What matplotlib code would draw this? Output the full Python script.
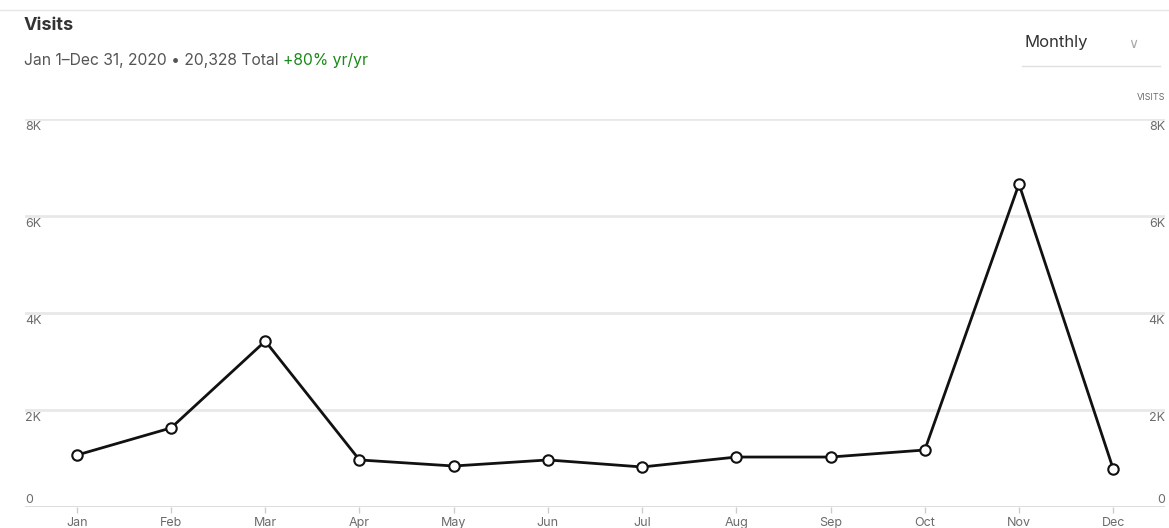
import matplotlib.pyplot as plt
from matplotlib.lines import Line2D

plt.rcParams["font.family"] = ["Inter", "DejaVu Sans"]

MESES = ["Jan", "Feb", "Mar", "Apr", "May", "Jun",
         "Jul", "Aug", "Sep", "Oct", "Nov", "Dec"]
VISITAS = [1070, 1630, 3420, 970, 845, 970, 825, 1030, 1030, 1175, 6660, 785]
Y_TICKS = [0, 2000, 4000, 6000, 8000]
Y_LABELS = ["0", "2K", "4K", "6K", "8K"]

CINZA_TEXTO = "#6b6b6b"
CINZA_GRID = "#e8e8e8"
VERDE = "#1a8917"

fig = plt.figure(figsize=(11.69, 5.28), dpi=100)
ax = fig.add_axes([0.0214, 0.0398, 0.9752, 0.7348])

x = list(range(len(MESES)))
ax.plot(x, VISITAS, color="#111111", linewidth=2, zorder=3,
        marker="o", markersize=7.5, markerfacecolor="white",
        markeredgecolor="#111111", markeredgewidth=1.5)

ax.set_xlim(-0.55, 11.55)
ax.set_ylim(0, 8000)

for v in Y_TICKS:
    ax.axhline(v, color=CINZA_GRID if v else "#d9d9d9", linewidth=2, zorder=1)

# rótulos do eixo y desenhados dentro da área, nos dois lados
for v, lab in zip(Y_TICKS, Y_LABELS):
    off = 7 if v == 0 else -8
    for xa, ha in [(0.0, "left"), (1.0, "right")]:
        ax.annotate(lab, xy=(xa, v), xycoords=("axes fraction", "data"),
                    xytext=(0, off), textcoords="offset pixels",
                    ha=ha, va="center", fontsize=9, color=CINZA_TEXTO)

ax.set_yticks([])
ax.set_xticks(x)
ax.set_xticklabels(MESES, fontsize=9, color=CINZA_TEXTO)
ax.tick_params(axis="x", length=4, width=1, color="#cccccc", pad=3)
for s in ax.spines.values():
    s.set_visible(False)

# cabeçalho
fig.add_artist(Line2D([0, 1], [1 - 10 / 528] * 2, color="#e6e6e6", linewidth=1))
fig.text(24 / 1169, 1 - 26 / 528, "Visits", fontsize=13, fontweight="bold",
         color="#333333", va="center")
t = fig.text(24 / 1169, 1 - 60 / 528, "Jan 1\u2013Dec 31, 2020 \u2022 20,328 Total ",
             fontsize=11.3, color="#555555", va="center")
fig.canvas.draw()
bb = t.get_window_extent()
fig.text(bb.x1 / 1169, 1 - 60 / 528, "+80% yr/yr", fontsize=11.3, color=VERDE, va="center")

fig.text(1025 / 1169, 1 - 43 / 528, "Monthly", fontsize=12, color="#333333", va="center")
fig.text(1133 / 1169, 1 - 44 / 528, "\u2228", fontsize=10, color="#aaaaaa",
         va="center", ha="center")
fig.add_artist(Line2D([1022 / 1169, 1160 / 1169], [1 - 66 / 528] * 2,
                      color="#e0e0e0", linewidth=1))
fig.text(1165 / 1169, 1 - 98 / 528, "VISITS", fontsize=6.5, color=CINZA_TEXTO,
         va="center", ha="right")

fig.savefig("out.png", dpi=100)
plt.close()
